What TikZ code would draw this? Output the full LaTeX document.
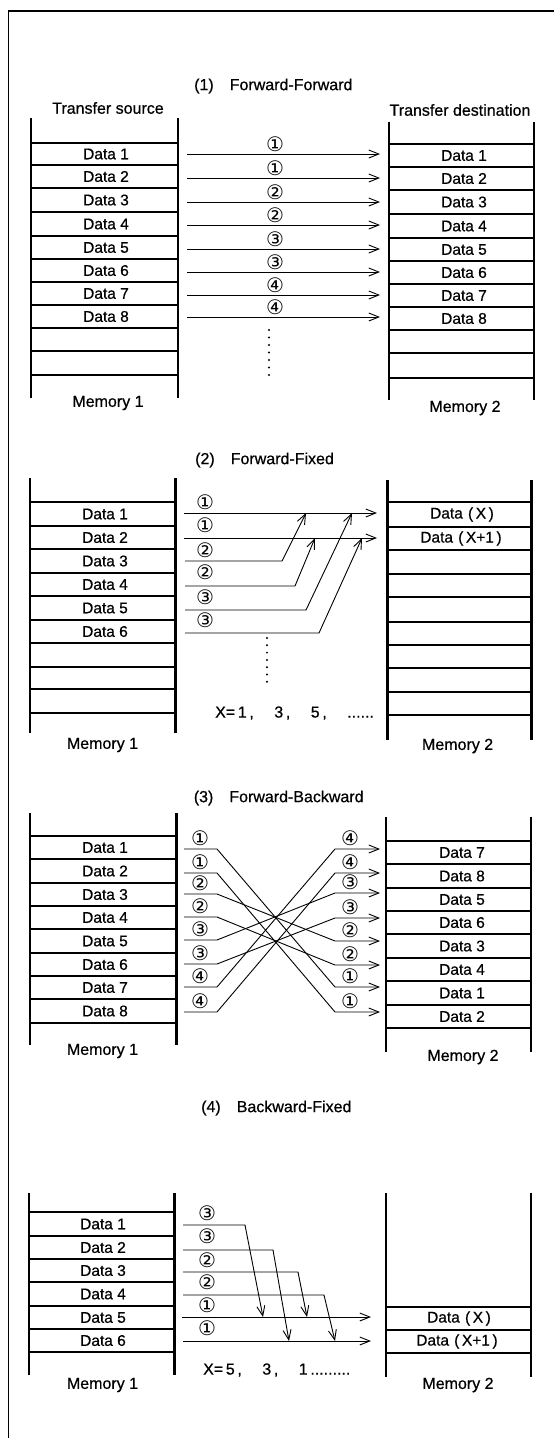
\documentclass[tikz,border=0pt]{standalone}
\usepackage{fontspec}
\setmainfont{Liberation Sans}[FakeBold=0.6]
\newfontfamily\symfont{DejaVu Sans}
\usetikzlibrary{arrows.meta}
\begin{document}
\begin{tikzpicture}[x=1pt,y=-1pt,
  mem/.style={line width=2.8pt},
  arr/.style={line width=0.9pt,-{Straight Barb[length=10pt,width=8pt]}},
  frameline/.style={line width=1.6pt},
  num/.style={font=\symfont\fontsize{20}{20}\selectfont,inner sep=0pt},
  txt/.style={font=\fontsize{16}{19}\selectfont,inner sep=0pt},
  dat/.style={font=\fontsize{15.5}{18}\selectfont,inner sep=0pt}
]
\useasboundingbox (0,0) rectangle (554,1438);
\draw[frameline] (554,11) -- (8.5,11) -- (8.5,1438);

% ---------------- Panel 1 ----------------
\node[txt,anchor=west] (t1) at (194,86) {(1)\quad Forward-Forward};
\node[txt] (src) at (108,108) {Transfer source};
\node[txt] (dst) at (460,110) {Transfer destination};
\draw[mem] (31,118) -- (31,398) (178,118) -- (178,398);
\foreach \y in {143,165,188,212,236,259,282,305,328,351,375} \draw[mem] (31,\y) -- (178,\y);
\draw[mem] (389,122) -- (389,400) (534,122) -- (534,400);
\foreach \y in {144,167,190,214,238,261,284,307,330,353,378} \draw[mem] (389,\y) -- (534,\y);
\foreach \y [count=\i] in {154,176.5,200,224,247.5,270.5,293.5,316.5} \node[dat] (a\i) at (106,\y) {Data \i};
\foreach \y [count=\i] in {155.5,178.5,202,226,249.5,272.5,295.5,318.5} \node[dat] (b\i) at (464,\y) {Data \i};
\foreach \y/\n [count=\i] in {154/①,178/①,202/②,225/②,249/③,272/③,295/④,317/④} {
  \coordinate (as\i) at (187,\y);
  \coordinate (ae\i) at (380,\y);
  \draw[arr] (as\i) -- (ae\i);
  \node[num] (an\i) at (275,\y-10) {\n};
}
\foreach \k in {0,...,6} \fill (269,330+7.5*\k) circle (1.1pt);
\node[txt] (m1a) at (108,403) {Memory 1};
\node[txt] (m2a) at (465,408) {Memory 2};

% ---------------- Panel 2 ----------------
\node[txt,anchor=west] (t2) at (195,460) {(2)\quad Forward-Fixed};
\draw[mem] (30,478) -- (30,733) (175.6,478) -- (175.6,733);
\foreach \y in {502,526,549,573,596,620,643,667,689,713} \draw[mem] (30,\y) -- (175.6,\y);
\draw[mem] (387.6,480) -- (387.6,740) (531.8,480) -- (531.8,740);
\foreach \y in {502,527,550,574,597,622,645,668,692,715} \draw[mem] (387.6,\y) -- (531.8,\y);
\foreach \y [count=\i] in {514,537.5,561,584.5,608,631.5} \node[dat] (c\i) at (105,\y) {Data \i};
\node[dat] (dx) at (462,514.5) {Data\,\,(\,X\,)};
\node[dat] (dx1) at (461,538.5) {Data\,\,(\,X+1\,)};
\coordinate (cs1) at (184,513); \coordinate (ce1) at (377,513);
\coordinate (cs2) at (184,538); \coordinate (ce2) at (377,538);
\draw[arr] (cs1) -- (ce1);
\draw[arr] (cs2) -- (ce2);
\foreach \y/\xc/\xt/\yt [count=\i from 3] in {561/282/306/513, 586/295/315/538, 610/306/352/513, 633/319/362/538} {
  \coordinate (cs\i) at (185,\y);
  \coordinate (ck\i) at (\xc,\y);
  \coordinate (ce\i) at (\xt,\yt);
  \draw[arr] (cs\i) -- (ck\i) -- (ce\i);
}
\foreach \y/\n [count=\i] in {502/①,525/①,550/②,572/②,597/③,620/③} \node[num] (cn\i) at (205,\y) {\n};
\foreach \k in {0,...,6} \fill (267,638+7.3*\k) circle (1.1pt);
\node[txt,anchor=west] (xs2) at (215,713) {X=\,1\,,\quad\ 3\,,\quad\ 5\,,\quad\ ......};
\node[txt] (m1b) at (102.5,745) {Memory 1};
\node[txt] (m2b) at (457.6,746) {Memory 2};

% ---------------- Panel 3 ----------------
\node[txt,anchor=west] (t3) at (193.6,798) {(3)\quad Forward-Backward};
\draw[mem] (30,813) -- (30,1045) (176.7,813) -- (176.7,1045);
\foreach \y in {836,859,883,906,929,953,976,999,1023} \draw[mem] (30,\y) -- (176.7,\y);
\draw[mem] (386,817) -- (386,1052) (531,817) -- (531,1052);
\foreach \y in {841,864,888,911,934,958,981,1005,1028} \draw[mem] (386,\y) -- (531,\y);
\foreach \y [count=\i] in {847.5,871,894.5,917.5,941,964.5,987.5,1011} \node[dat] (e\i) at (105,\y) {Data \i};
\foreach \y/\d [count=\i] in {852.5/7,876/8,899.5/5,922.5/6,946/3,969.5/4,993/1,1016.5/2} \node[dat] (f\i) at (462,\y) {Data \d};
\foreach \y/\n [count=\i] in {849/①,873/①,894/②,917/②,940/③,964/③,987/④,1012/④} {
  \coordinate (ls\i) at (184,\y);
  \coordinate (lk\i) at (217,\y);
  \node[num] (ln\i) at (200,\y-11) {\n};
}
\foreach \y/\n [count=\i] in {849/④,873/④,893/③,918/③,941/②,965/②,987/①,1012/①} {
  \coordinate (rk\i) at (335,\y);
  \coordinate (re\i) at (380,\y);
  \node[num] (rn\i) at (350,\y-11) {\n};
}
\foreach \a/\b in {1/7,2/8,3/5,4/6,5/3,6/4,7/1,8/2} \draw[arr] (ls\a) -- (lk\a) -- (rk\b) -- (re\b);
\node[txt] (m1c) at (102.5,1051) {Memory 1};
\node[txt] (m2c) at (463,1057) {Memory 2};

% ---------------- Panel 4 ----------------
\node[txt,anchor=west] (t4) at (201,1108) {(4)\quad Backward-Fixed};
\draw[mem] (29,1193) -- (29,1375) (174.2,1193) -- (174.2,1375);
\foreach \y in {1212,1236,1259,1282,1306,1329,1352} \draw[mem] (29,\y) -- (174.2,\y);
\draw[mem] (386,1193) -- (386,1377) (531,1193) -- (531,1377);
\foreach \y in {1307,1330,1353} \draw[mem] (386,\y) -- (531,\y);
\foreach \y [count=\i] in {1224,1247.5,1270.5,1294,1317.5,1340.5} \node[dat] (g\i) at (103,\y) {Data \i};
\node[dat] (gx) at (459,1318.5) {Data\,\,(\,X\,)};
\node[dat] (gx1) at (457,1341.5) {Data\,\,(\,X+1\,)};
\coordinate (hs5) at (182,1317); \coordinate (he5) at (371,1317);
\coordinate (hs6) at (183,1341); \coordinate (he6) at (371,1341);
\draw[arr] (hs5) -- (he5);
\draw[arr] (hs6) -- (he6);
\foreach \y/\xc/\xt/\yt [count=\i] in {1225/245/263/1317, 1250/273/289/1341, 1272/298/307/1317, 1295/324/335/1341} {
  \coordinate (hs\i) at (183,\y);
  \coordinate (hk\i) at (\xc,\y);
  \coordinate (he\i) at (\xt,\yt);
  \draw[arr] (hs\i) -- (hk\i) -- (he\i);
}
\foreach \y/\n [count=\i] in {1213/③,1236/③,1260/②,1282/②,1305/①,1328/①} \node[num] (hn\i) at (207,\y) {\n};
\node[txt,anchor=west] (xs4) at (203,1370) {X=\,5\,,\quad\ 3\,,\quad\ 1\,.........};
\node[txt] (m1d) at (102.5,1385) {Memory 1};
\node[txt] (m2d) at (458,1385) {Memory 2};
\end{tikzpicture}
\end{document}
